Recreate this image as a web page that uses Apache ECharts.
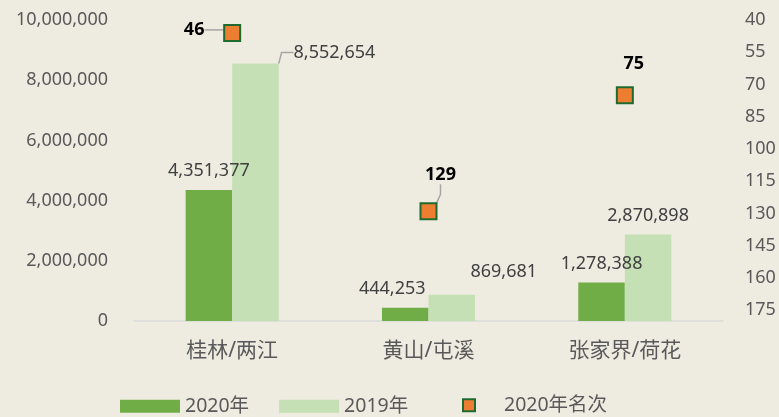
<!DOCTYPE html>
<html>
<head>
<meta charset="utf-8">
<style>
  html, body { margin: 0; padding: 0; background: #eeece1; }
  #chart { width: 779px; height: 417px; }
</style>
<script src="https://cdn.jsdelivr.net/npm/echarts@6/dist/echarts.min.js"></script>
</head>
<body>
<div id="chart"></div>
<script>
// 数据
const categories = ['桂林/两江', '黄山/屯溪', '张家界/荷花']
const visitors2020 = [4351377, 444253, 1278388]
const visitors2019 = [8552654, 869681, 2870898]
const rank2020 = [46, 129, 75]

// 标签偏移 (dx, dy)，以及是否画引导线
const shift2020 = [[0, 0], [-13, 0], [0, 0]]
const shift2019 = [[79, 8], [52, -4], [0, 0]]
const shiftRank = [[-38, -3], [12, -36], [9, -31]]
const line2019 = [true, false, false]
const lineRank = [true, true, false]

const font = "'Noto Sans', 'Noto Sans CJK SC', sans-serif"
const fmt = (v) => Number(v).toLocaleString('en-US')

const chart = echarts.init(document.getElementById('chart'))

const withLine = (values, flags) =>
  values.map((v, i) => ({ value: v, labelLine: { show: flags[i] } }))

const option = {
  backgroundColor: '#eeece1',
  textStyle: { fontFamily: font },
  grid: { left: 134, right: 56, top: 20, bottom: 96 },
  legend: [
    {
      data: ['2020年', '2019年'],
      left: 115,
      bottom: -4,
      itemWidth: 60,
      itemHeight: 13,
      itemGap: 30,
      icon: 'rect',
      textStyle: { color: '#595959', fontSize: 19.5, fontFamily: font },
    },
    {
      data: ['2020年名次'],
      left: 457,
      bottom: -3,
      itemWidth: 12,
      itemHeight: 12,
      textStyle: { color: '#595959', fontSize: 19.5, fontFamily: font, padding: [0, 0, 0, 24] },
    },
  ],
  xAxis: {
    type: 'category',
    data: categories,
    axisLine: { lineStyle: { color: '#d9d9d9', width: 1.5 } },
    axisTick: { show: false },
    axisLabel: { color: '#595959', fontSize: 21, margin: 20, fontFamily: font },
  },
  yAxis: [
    {
      type: 'value',
      min: 0,
      max: 10000000,
      interval: 2000000,
      splitLine: { show: false },
      axisLine: { show: false },
      axisTick: { show: false },
      axisLabel: { color: '#595959', fontSize: 18, margin: 26, formatter: fmt, fontFamily: font },
    },
    {
      type: 'value',
      inverse: true,
      min: 40,
      max: 180,
      interval: 15,
      splitLine: { show: false },
      axisLine: { show: false },
      axisTick: { show: false },
      axisLabel: { color: '#595959', fontSize: 18, margin: 22, showMaxLabel: false, fontFamily: font },
    },
  ],
  series: [
    {
      name: '2020年',
      type: 'bar',
      data: visitors2020,
      barGap: '0%',
      barCategoryGap: '52.6%',
      itemStyle: { color: '#70ad47' },
      label: {
        show: true,
        position: 'top',
        distance: 10,
        color: '#404040',
        fontSize: 18,
        fontFamily: font,
        formatter: (p) => fmt(p.value),
      },
      labelLayout: (p) => ({ dx: shift2020[p.dataIndex][0], dy: shift2020[p.dataIndex][1] }),
    },
    {
      name: '2019年',
      type: 'bar',
      data: withLine(visitors2019, line2019),
      itemStyle: { color: '#c5e0b4' },
      label: {
        show: true,
        position: 'top',
        distance: 10,
        color: '#404040',
        fontSize: 18,
        fontFamily: font,
        formatter: (p) => fmt(p.value),
      },
      labelLine: { show: false, length2: 12, lineStyle: { color: '#a6a6a6', width: 1.5 } },
      labelLayout: (p) => ({ dx: shift2019[p.dataIndex][0], dy: shift2019[p.dataIndex][1] }),
    },
    {
      name: '2020年名次',
      type: 'scatter',
      yAxisIndex: 1,
      data: withLine(rank2020, lineRank),
      symbol: 'rect',
      symbolSize: 16,
      itemStyle: { color: '#ed7d31', borderColor: '#20692f', borderWidth: 2, opacity: 1 },
      label: {
        show: true,
        position: 'inside',
        color: '#000',
        fontWeight: 'bold',
        fontSize: 18,
        fontFamily: font,
      },
      labelLine: { show: false, length2: 10, lineStyle: { color: '#a6a6a6', width: 1.5 } },
      labelLayout: (p) => ({ dx: shiftRank[p.dataIndex][0], dy: shiftRank[p.dataIndex][1] }),
      z: 5,
    },
  ],
}

chart.setOption(option)
</script>
</body>
</html>
